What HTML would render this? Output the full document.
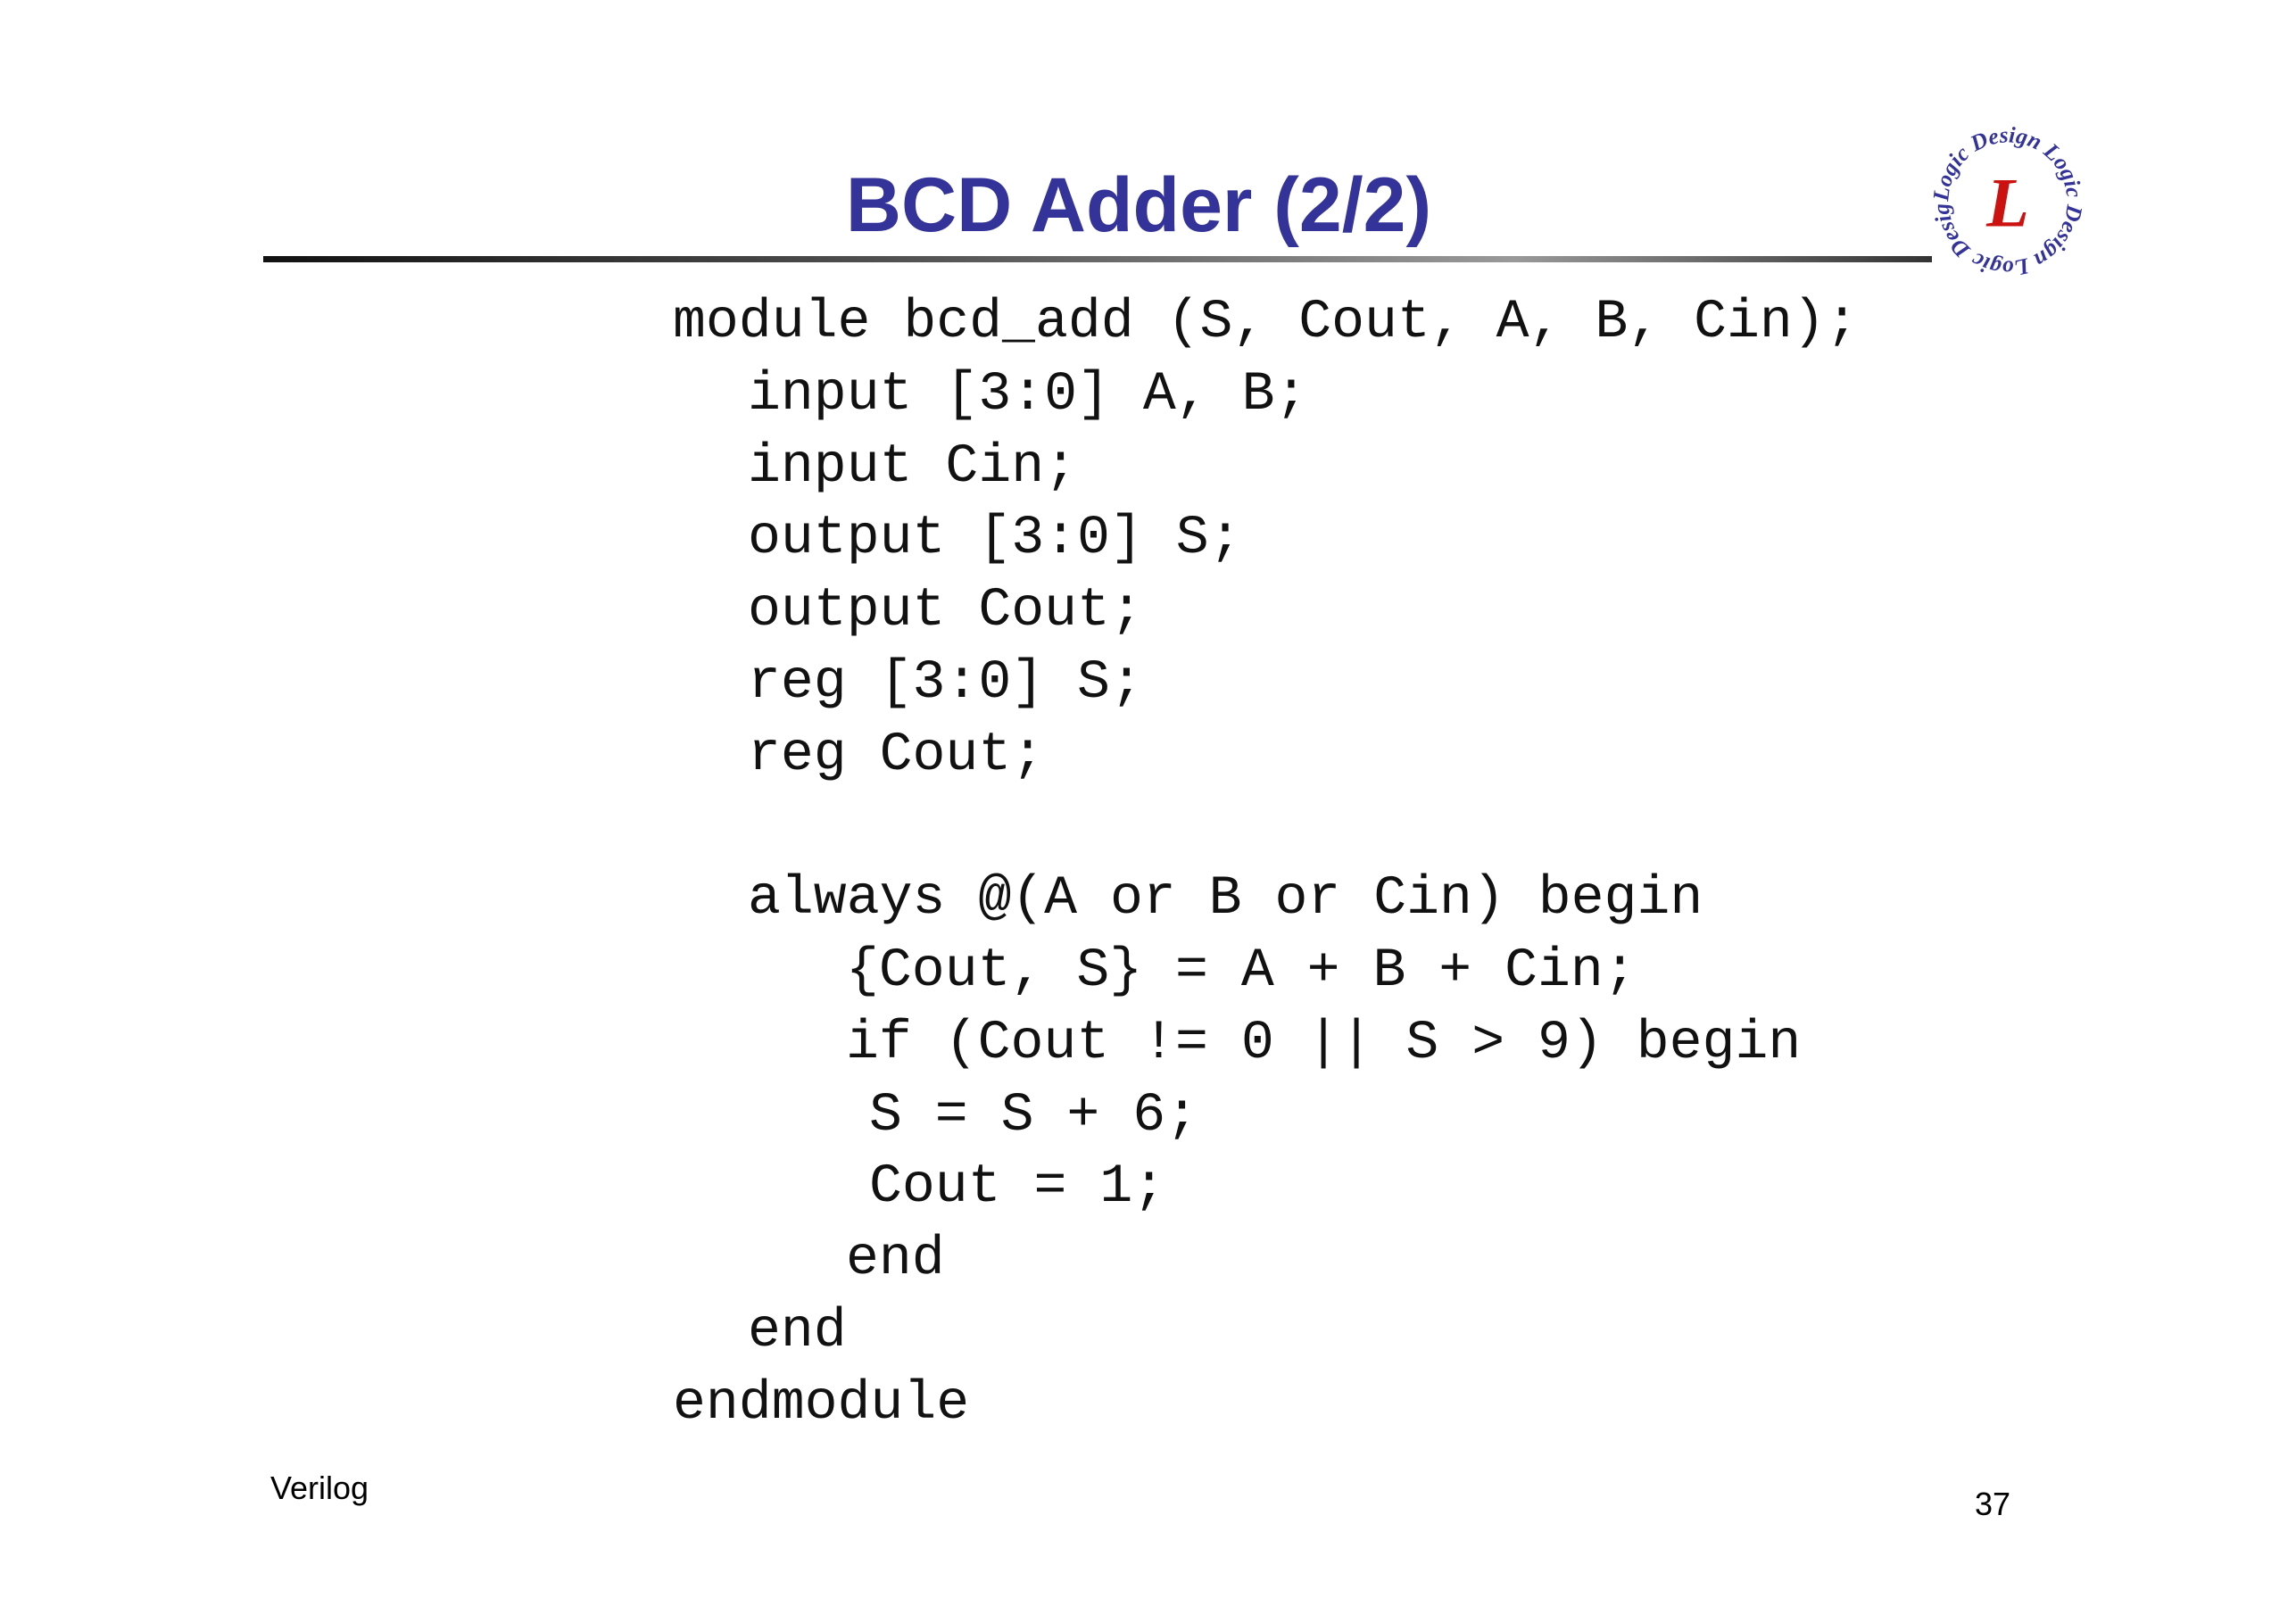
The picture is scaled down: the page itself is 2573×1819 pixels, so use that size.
<!DOCTYPE html>
<html><head><meta charset="utf-8"><style>
html,body{margin:0;padding:0;background:#fff;}
body{width:2573px;height:1819px;position:relative;overflow:hidden;}
.t{position:absolute;left:0;width:2552px;text-align:center;top:180px;font:bold 86px "Liberation Sans",sans-serif;color:#333399;line-height:100px;}
.rule{position:absolute;left:295px;top:287px;width:1870px;height:7px;background:linear-gradient(to right,#111 0%,#555 40%,#999 75%,#333 100%);}
.c{position:absolute;font:61.5px "Liberation Mono",monospace;color:#111;line-height:80px;white-space:pre;}
.s{position:absolute;font:36px "Liberation Sans",sans-serif;color:#000;}
</style></head><body>
<div class="t">BCD Adder (2/2)</div>
<div class="rule"></div>
<svg style="position:absolute;left:2160px;top:138px" width="180" height="176" viewBox="0 0 184 180">
<defs><path id="cp" d="M92,90 m-68,0 a68,68 0 1,1 136,0 a68,68 0 1,1 -136,0"/></defs>
<text font-family="Liberation Serif,serif" font-style="italic" font-weight="bold" font-size="26" fill="#333399"><textPath href="#cp">Logic Design Logic Design Logic Design</textPath></text>
<text x="92" y="118" text-anchor="middle" font-family="Liberation Serif,serif" font-style="italic" font-weight="bold" font-size="80" fill="#cc1111">L</text>
</svg>
<div class="c" style="left:754px;top:322px">module bcd_add (S, Cout, A, B, Cin);</div>
<div class="c" style="left:838px;top:403px">input [3:0] A, B;</div>
<div class="c" style="left:838px;top:484px">input Cin;</div>
<div class="c" style="left:838px;top:564px">output [3:0] S;</div>
<div class="c" style="left:838px;top:645px">output Cout;</div>
<div class="c" style="left:838px;top:726px">reg [3:0] S;</div>
<div class="c" style="left:838px;top:807px">reg Cout;</div>
<div class="c" style="left:838px;top:968px">always @(A or B or Cin) begin</div>
<div class="c" style="left:948px;top:1049px">{Cout, S} = A + B + Cin;</div>
<div class="c" style="left:948px;top:1130px">if (Cout != 0 || S &gt; 9) begin</div>
<div class="c" style="left:974px;top:1211px">S = S + 6;</div>
<div class="c" style="left:974px;top:1291px">Cout = 1;</div>
<div class="c" style="left:948px;top:1372px">end</div>
<div class="c" style="left:838px;top:1453px">end</div>
<div class="c" style="left:754px;top:1534px">endmodule</div>
<div class="s" style="left:303px;top:1647px">Verilog</div>
<div class="s" style="left:2213px;top:1665px">37</div>
</body></html>
